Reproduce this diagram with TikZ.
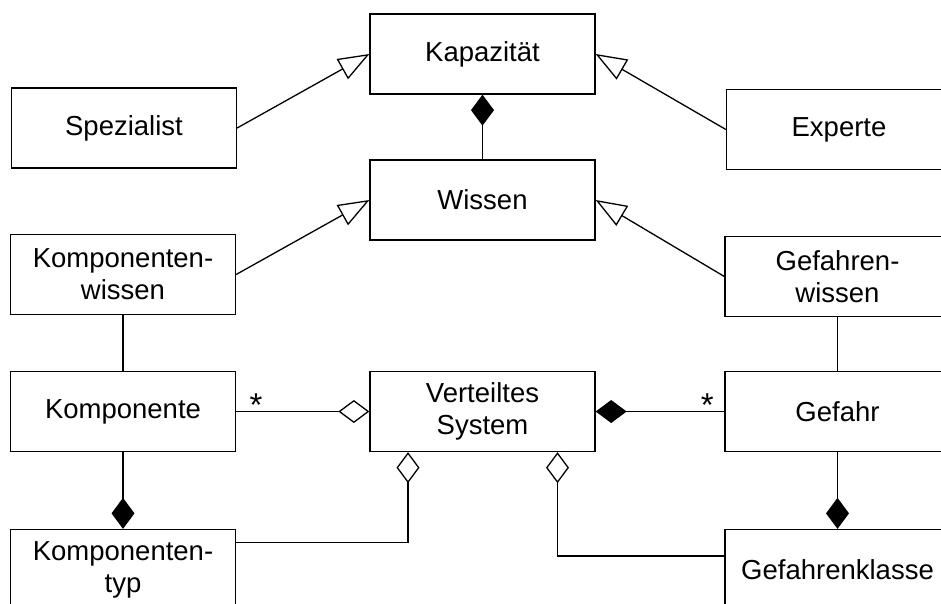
\documentclass[tikz,border=0pt]{standalone}
\usepackage{fontspec}
\setmainfont{Liberation Sans}
\usetikzlibrary{arrows.meta,calc}
\begin{document}
\begin{tikzpicture}[x=1pt,y=-1pt,
  line width=1.3pt,
  cls/.style={draw, rectangle, minimum width=225pt, minimum height=80pt,
    align=center, inner sep=0pt, font=\fontsize{27.5}{32}\selectfont},
  mult/.style={anchor=base, inner sep=0pt, font=\fontsize{33}{36}\selectfont},
  gen/.style={-{Triangle[open, length=31pt, width=23pt]}},
  comp/.style={{Diamond[length=31pt, width=23pt]}-},
  aggr/.style={{Diamond[open, length=31pt, width=23pt]}-}]
\useasboundingbox (0,0) rectangle (941,603);
\clip (0,0) rectangle (941,603);

% classes
\node[cls] (kap)   at (482.5, 54)   {Kapazität};
\node[cls] (wis)   at (482.5, 200)  {Wissen};
\node[cls] (vs)    at (482.5, 411.5) {Verteiltes\\System};
\node[cls] (spez)  at (124, 128)    {Spezialist};
\node[cls] (kw)    at (123, 274.5)  {Komponenten-\\wissen};
\node[cls] (komp)  at (123, 411.5)  {Komponente};
\node[cls] (ktyp)  at (123, 569.5)  {Komponenten-\\typ};
\node[cls] (exp)   at (839, 129.5)  {Experte};
\node[cls] (gw)    at (837.5, 276.5) {Gefahren-\\wissen};
\node[cls] (gef)   at (837.5, 411.5) {Gefahr};
\node[cls] (gk)    at (837.5, 569.5) {Gefahrenklasse};

% generalisations
\draw[gen] (spez.east) -- (kap.west);
\draw[gen] (exp.west)  -- (kap.east);
\draw[gen] (kw.east)   -- (wis.west);
\draw[gen] (gw.west)   -- (wis.east);

% compositions
\draw[comp] (kap.south) -- (wis.north);
\draw[comp] (ktyp.north) -- (komp.south);
\draw[comp] (gk.north) -- (gef.south);
\draw[comp] (vs.east) -- (gef.west);

% plain associations
\draw (kw.south) -- (komp.north);
\draw (gw.south) -- (gef.north);

% aggregations
\draw[aggr] (vs.west) -- (komp.east);
\coordinate (vsl) at ($(vs.south)+(-74.5,0)$);
\coordinate (vsr) at ($(vs.south)+(75,0)$);
\coordinate (ktypj) at ($(ktyp.north east)+(0,13.5)$);
\coordinate (gkj) at ($(gk.north west)+(0,27)$);
\draw[aggr] (vsl) |- (ktypj);
\draw[aggr] (vsr) |- (gkj);

% multiplicities
\node[mult] (m1) at ($(komp.east)+(20,5)$) {*};
\node[mult] (m2) at ($(gef.west)+(-17,5)$) {*};
\end{tikzpicture}
\end{document}
